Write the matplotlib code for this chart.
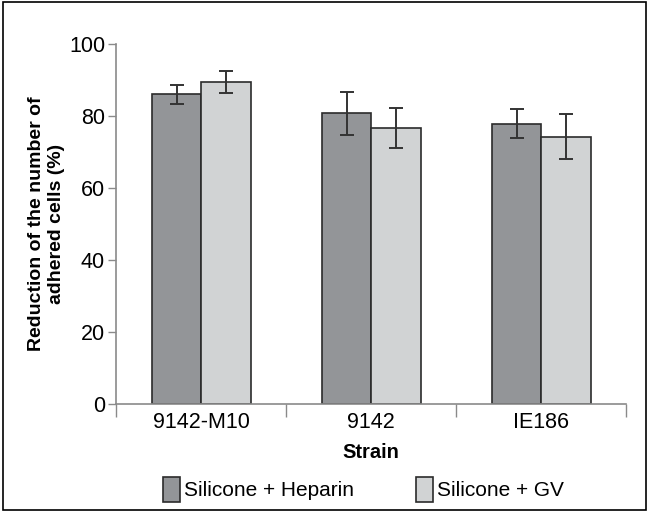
import matplotlib.pyplot as plt
import numpy as np
from matplotlib.patches import Rectangle

strains = ["9142-M10", "9142", "IE186"]
heparin = [86.0, 80.7, 77.9]
heparin_err = [2.6, 6.0, 4.1]
gv = [89.4, 76.6, 74.3]
gv_err = [3.0, 5.6, 6.3]

plt.rcParams['font.family'] = ['Liberation Sans', 'DejaVu Sans']

dark = '#939598'
light = '#d1d3d4'
edge = '#2b2b2b'
axis_col = '#8a8a8a'

fig = plt.figure(figsize=(6.49, 5.12), dpi=100)
ax = fig.add_axes([0.179, 0.211, 0.786, 0.703])

x = np.arange(len(strains))
w = 0.29
ax.bar(x - w / 2, heparin, w, color=dark, edgecolor=edge, linewidth=1.2,
       label="Silicone + Heparin")
ax.bar(x + w / 2, gv, w, color=light, edgecolor=edge, linewidth=1.2,
       label="Silicone + GV")
ax.errorbar(x - w / 2, heparin, yerr=heparin_err, fmt='none', ecolor='#333333',
            elinewidth=1.4, capsize=5, capthick=1.4)
ax.errorbar(x + w / 2, gv, yerr=gv_err, fmt='none', ecolor='#333333',
            elinewidth=1.4, capsize=5, capthick=1.4)

ax.set_xlim(-0.5, len(strains) - 0.5)
ax.set_ylim(0, 100)
ax.set_yticks(range(0, 101, 20))
ax.set_xticks(x)
ax.set_xticklabels(strains, fontsize=15.5)
ax.tick_params(axis='x', length=0, pad=6)
ax.set_xticks(np.arange(-0.5, len(strains)), minor=True)
ax.tick_params(axis='x', which='minor', length=9, width=1, color=axis_col, direction='out')
ax.tick_params(axis='y', labelsize=15.5, length=6, width=1, color=axis_col, direction='out', pad=2)

for s in ['top', 'right']:
    ax.spines[s].set_visible(False)
for s in ['left', 'bottom']:
    ax.spines[s].set_color(axis_col)
    ax.spines[s].set_linewidth(1.2)

ax.set_xlabel("Strain", fontsize=14.5, fontweight='bold', labelpad=7)
ax.set_ylabel("Reduction of the number of\nadhered cells (%)", fontsize=14,
              fontweight='bold', labelpad=3)

fig.legend(loc='center', bbox_to_anchor=(0.56, 0.044), ncol=2, frameon=False,
           fontsize=15, handlelength=0.8, handleheight=1.4, handletextpad=0.2,
           columnspacing=3.0)

fig.patches.append(Rectangle((0.004, 0.004), 0.992, 0.992, transform=fig.transFigure,
                             fill=False, edgecolor='black', linewidth=1.2))

fig.savefig("out.png", dpi=100)
